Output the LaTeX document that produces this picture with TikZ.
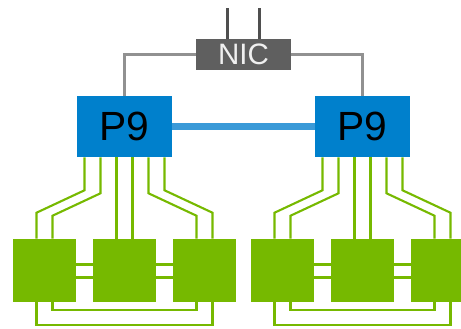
\documentclass[tikz,border=0pt]{standalone}
\usepackage{fontspec}
\setmainfont{Liberation Sans}
\usetikzlibrary{calc}
\definecolor{cpufill}{HTML}{0080CC}
\definecolor{xbusline}{HTML}{3A9AD8}
\definecolor{nicfill}{HTML}{5F5F5F}
\definecolor{nicline}{HTML}{919191}
\definecolor{portline}{HTML}{4F4F4F}
\definecolor{gpufill}{HTML}{76B900}
\tikzset{
  cpublk/.style = {rectangle, fill=cpufill, text=black, inner sep=0pt,
                   minimum width=23.75mm, minimum height=15.25mm, font=\fontsize{29}{30}\selectfont},
  nicblk/.style = {rectangle, fill=nicfill, text=white!94!black, inner sep=0pt,
                   minimum width=23.75mm, minimum height=7.75mm, font=\fontsize{21}{22}\selectfont},
  gpublk/.style = {rectangle, fill=gpufill, inner sep=0pt, minimum size=15.75mm},
  nvlink/.style = {draw=gpufill, line width=1.5pt},
  xbus/.style   = {draw=xbusline, line width=5pt},
  pciline/.style= {draw=nicline, line width=2.8pt},
  portline/.style={draw=portline, line width=2.8pt},
}
\begin{document}
\begin{tikzpicture}[x=0.25mm, y=-0.25mm]
  \useasboundingbox (0,0) rectangle (461,328);
  \clip (0,0) rectangle (461,328);
  \node[nicblk] (nic) at (243.5,54.5) {NIC};
  \coordinate (sa) at (227.5,8);
  \coordinate (sb) at (259.5,8);
  \foreach \s in {sa, sb}{\draw[portline] (\s) -- (\s |- nic.north);}
  \foreach \s/\o in {a/0, b/238}{
    \begin{scope}[shift={(\o,0)}]
      \node[cpublk] (p\s) at (124.5,126.5) {P9};
      \node[gpublk] (g\s1) at (44.5,270.5) {};
      \node[gpublk] (g\s2) at (124.5,270.5) {};
      \node[gpublk] (g\s3) at (204.5,270.5) {};
    \end{scope}
    % links from P9 down to the three green blocks
    \draw[nvlink] ($(p\s.south)+(-40,0)$) -- ++(0,33) -- ($(g\s1.north)+(-8,-26)$) -- ($(g\s1.north)+(-8,0)$);
    \draw[nvlink] ($(p\s.south)+(-24,0)$) -- ++(0,36) -- ($(g\s1.north)+(8,-23)$) -- ($(g\s1.north)+(8,0)$);
    \draw[nvlink] ($(p\s.south)+(-8,0)$) -- ($(g\s2.north)+(-8,0)$);
    \draw[nvlink] ($(p\s.south)+(8,0)$) -- ($(g\s2.north)+(8,0)$);
    \draw[nvlink] ($(p\s.south)+(24,0)$) -- ++(0,36) -- ($(g\s3.north)+(-8,-23)$) -- ($(g\s3.north)+(-8,0)$);
    \draw[nvlink] ($(p\s.south)+(40,0)$) -- ++(0,33) -- ($(g\s3.north)+(8,-26)$) -- ($(g\s3.north)+(8,0)$);
    % links between the green blocks
    \foreach \x/\y in {g\s1/g\s2, g\s2/g\s3}{
      \draw[nvlink] ($(\x.east)+(0,-6)$) -- ($(\y.west)+(0,-6)$);
      \draw[nvlink] ($(\x.east)+(0,7)$) -- ($(\y.west)+(0,7)$);}
    \draw[nvlink] ($(g\s1.south)+(8,0)$) -- ++(0,8) -| ($(g\s3.south)+(-8,0)$);
    \draw[nvlink] ($(g\s1.south)+(-8,0)$) -- ++(0,23) -| ($(g\s3.south)+(8,0)$);
  }
  \draw[xbus] (pa) -- (pb);
  \draw[pciline] (nic.west) -| (pa.north);
  \draw[pciline] (nic.east) -| (pb.north);
\end{tikzpicture}
\end{document}
